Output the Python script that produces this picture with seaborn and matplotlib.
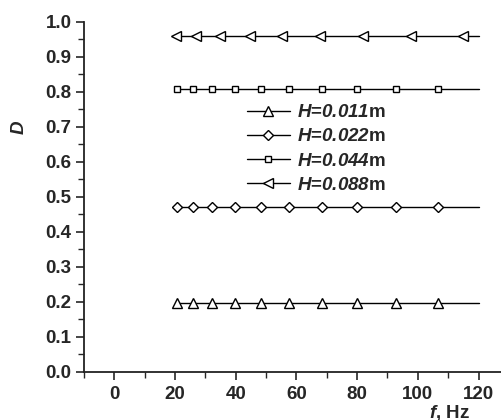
import matplotlib
matplotlib.use("Agg")
import matplotlib.pyplot as plt
import seaborn as sns
import numpy as np
import pandas as pd
from matplotlib.lines import Line2D
from matplotlib.ticker import MultipleLocator, FormatStrFormatter

# frequencies where the markers sit (Hz); every curve runs on to 120 Hz
freq_main = [20.5, 25.8, 32.1, 39.8, 48.3, 57.6, 68.3, 80.0, 92.8, 106.8]
freq_088 = [20.3, 26.9, 34.8, 44.6, 55.4, 67.7, 82.0, 97.9, 115.0]
freq_end = 120.0

heights = ["0.011", "0.022", "0.044", "0.088"]
d_values = [0.195, 0.472, 0.807, 0.960]
markers = ["^", "D", "s", "<"]
msizes = [7, 5, 4.5, 7]

sns.set_style("ticks")
plt.rcParams["font.family"] = ["Liberation Sans", "DejaVu Sans"]
plt.rcParams["font.weight"] = "bold"
plt.rcParams["mathtext.fontset"] = "custom"
plt.rcParams["mathtext.rm"] = "Liberation Sans:bold"
plt.rcParams["mathtext.it"] = "Liberation Sans:italic:bold"
plt.rcParams["mathtext.bf"] = "Liberation Sans:bold"
plt.rcParams["mathtext.bfit"] = "Liberation Sans:italic:bold"

FS = 13.5

fig = plt.figure(figsize=(5.01, 4.2), dpi=100)
ax = fig.add_axes([0.1677, 0.115, 0.848, 0.833])

handles = []
for i, h in enumerate(heights):
    xs = freq_088 if h == "0.088" else freq_main
    df = pd.DataFrame({"f": xs + [freq_end], "D": [d_values[i]] * (len(xs) + 1)})
    sns.lineplot(data=df, x="f", y="D", color="black", linewidth=1.0, ax=ax)
    sns.lineplot(data=df.iloc[:-1], x="f", y="D", color="black", linestyle="none",
                 marker=markers[i], markersize=msizes[i], markerfacecolor="white",
                 markeredgecolor="black", markeredgewidth=1.0, ax=ax)
    handles.append(Line2D([], [], color="black", linewidth=1.0, marker=markers[i],
                          markersize=msizes[i], markerfacecolor="white",
                          markeredgecolor="black", markeredgewidth=1.0,
                          label=r"$\mathbfit{H}$=$\mathbfit{" + h + r"}$m"))

ax.set_xlim(-10, 130)
ax.set_ylim(0, 1.0)
ax.xaxis.set_major_locator(MultipleLocator(20))
ax.xaxis.set_minor_locator(MultipleLocator(10))
ax.yaxis.set_major_locator(MultipleLocator(0.1))
ax.yaxis.set_minor_locator(MultipleLocator(0.05))
ax.yaxis.set_major_formatter(FormatStrFormatter("%.1f"))

for side in ["top", "right"]:
    ax.spines[side].set_visible(False)
for side in ["left", "bottom"]:
    ax.spines[side].set_linewidth(1.3)
    ax.spines[side].set_color("#222222")

ax.tick_params(which="major", direction="out", length=6, width=1.2, labelsize=FS, pad=3)
ax.tick_params(which="minor", direction="out", length=4, width=1.0)
ax.tick_params(axis="x", which="major", pad=4)
for lab in ax.get_xticklabels() + ax.get_yticklabels():
    lab.set_fontweight("bold")

ax.set_ylabel("D", fontsize=FS, fontweight="bold", fontstyle="italic")
ax.yaxis.set_label_coords(-0.132, 0.70)
ax.set_xlabel(r"$\mathbfit{f}$, Hz", fontsize=FS, fontweight="bold")
ax.xaxis.set_label_coords(0.861, -0.09)

ax.legend(handles=handles, loc="upper left", bbox_to_anchor=(0.383, 0.765),
          frameon=False, fontsize=FS, handlelength=2.3, handletextpad=0.4,
          labelspacing=0.38, borderpad=0, borderaxespad=0)

fig.savefig("out.png", dpi=100)
